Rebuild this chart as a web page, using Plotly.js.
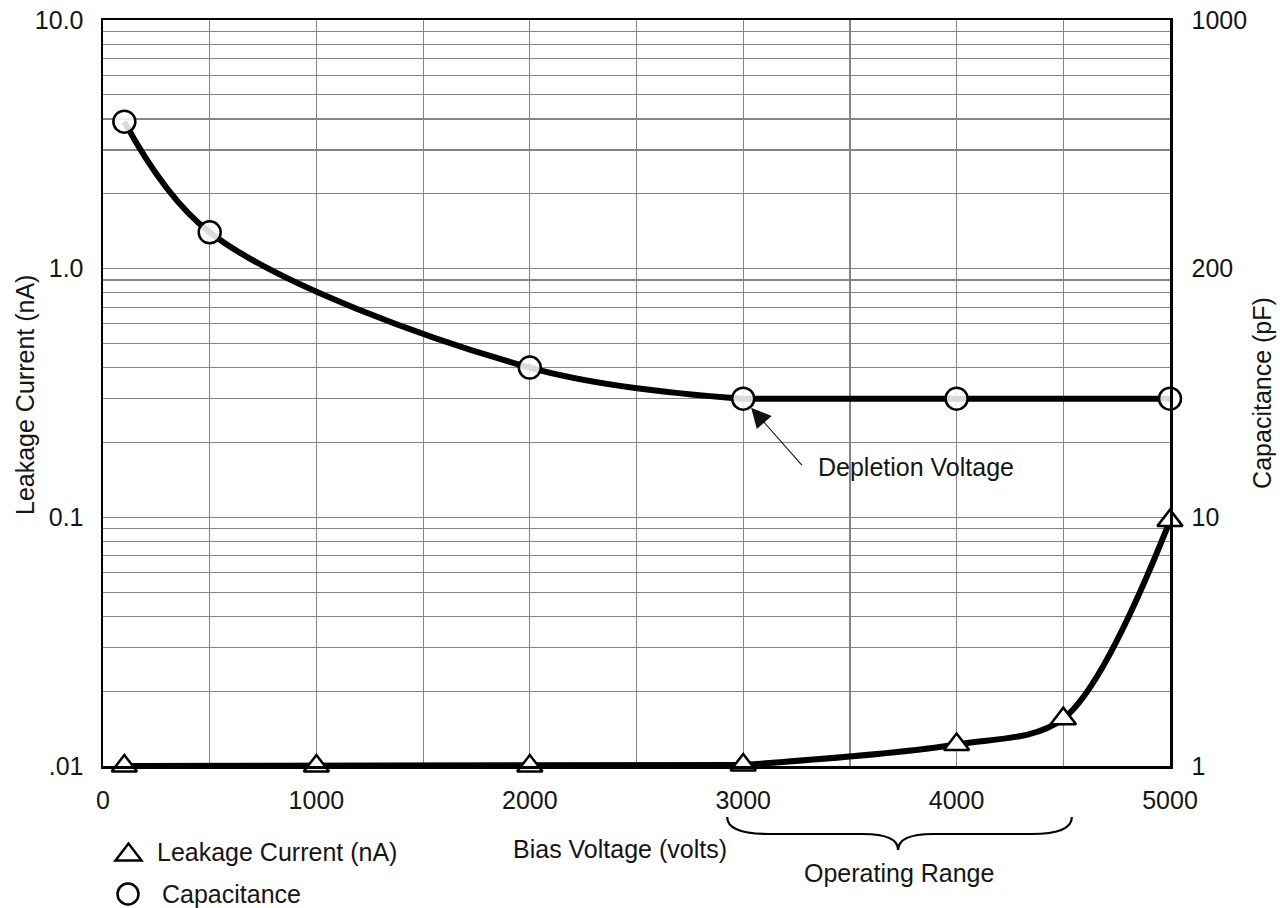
<!DOCTYPE html>
<html>
<head>
<meta charset="utf-8">
<script src="https://cdn.plot.ly/plotly-3.0.1.min.js"></script>
<style>html,body{margin:0;padding:0;background:#fff;}#chart{width:1280px;height:908px;}</style>
</head>
<body>
<div id="chart"></div>
<script>
// ---- data ----
const leakVoltage = [100, 1000, 2000, 3000, 4000, 4500, 5000];
const leakageCurrent = [0.01, 0.01, 0.01, 0.0101, 0.0122, 0.0155, 0.097];
const capVoltage = [100, 500, 2000, 3000, 4000, 5000];
const capacitance = [3.9, 1.4, 0.4, 0.3, 0.3, 0.3]; // plotted on the left-decade positions
const xTickVals = [0, 1000, 2000, 3000, 4000, 5000];
const yTickVals = [0.01, 0.1, 1, 10];
const yTickTextLeft = ['.01', '0.1', '1.0', '10.0'];
const yTickTextRight = ['1', '10', '200', '1000'];
const depletionIndex = 3;

const FONT = '"Liberation Sans", Arial, Helvetica, sans-serif';
const FS = 25;
const TXT = '#151515';
const GRID = '#858585';

const minorVals = [];
[0.01, 0.1, 1].forEach(d => { for (let k = 2; k <= 9; k++) minorVals.push(d * k); });

const LW = 6;
const traces = [
  {x: leakVoltage.slice(0, 4), y: leakageCurrent.slice(0, 4), mode: 'lines', yaxis: 'y',
   line: {color: '#000', width: LW}, showlegend: false, cliponaxis: false, hoverinfo: 'skip'},
  {x: leakVoltage.slice(3), y: leakageCurrent.slice(3), mode: 'lines', yaxis: 'y',
   line: {color: '#000', width: LW, shape: 'spline', smoothing: 0.9}, showlegend: false, cliponaxis: false, hoverinfo: 'skip'},
  {x: capVoltage.slice(0, 4), y: capacitance.slice(0, 4), mode: 'lines', yaxis: 'y2',
   line: {color: '#000', width: LW, shape: 'spline', smoothing: 1}, showlegend: false, cliponaxis: false, hoverinfo: 'skip'},
  {x: capVoltage.slice(3), y: capacitance.slice(3), mode: 'lines', yaxis: 'y2',
   line: {color: '#000', width: LW}, showlegend: false, cliponaxis: false, hoverinfo: 'skip'},
  {x: leakVoltage, y: leakageCurrent, mode: 'markers', yaxis: 'y', name: 'Leakage Current (nA)',
   marker: {symbol: 'triangle-up', size: 22, color: '#fff', line: {color: '#000', width: 2.5}},
   showlegend: false, cliponaxis: false},
  {x: capVoltage, y: capacitance, mode: 'markers', yaxis: 'y2', name: 'Capacitance',
   marker: {symbol: 'circle', size: 22, color: 'rgba(255,255,255,0.85)', line: {color: '#000', width: 2.5}},
   showlegend: false, cliponaxis: false}
];

const pl = 103, pr = 1170, pt = 20, pb = 766;
const px = v => (v - pl) / (pr - pl);
const py = v => (pb - v) / (pb - pt);

const layout = {
  width: 1280, height: 908,
  margin: {l: pl, r: 1280 - pr, t: pt, b: 908 - pb},
  paper_bgcolor: '#fff', plot_bgcolor: '#fff',
  showlegend: false,
  font: {family: FONT, size: FS, color: TXT},
  xaxis: {
    range: [0, 5000], tickmode: 'array', tickvals: xTickVals,
    showgrid: true, gridcolor: GRID, gridwidth: 1.2,
    minor: {tick0: 0, dtick: 500, showgrid: true, gridcolor: GRID, gridwidth: 1.2, ticks: ''},
    showline: true, linecolor: '#000', linewidth: 2.5, mirror: true,
    ticks: '', ticklabelstandoff: 10, zeroline: false,
    tickfont: {family: FONT, size: FS, color: TXT}
  },
  yaxis: {
    type: 'log', range: [-2, 1], tickmode: 'array', tickvals: yTickVals, ticktext: yTickTextLeft,
    showgrid: true, gridcolor: GRID, gridwidth: 1.2,
    minor: {tickmode: 'array', tickvals: minorVals, showgrid: true, gridcolor: GRID, gridwidth: 1.2, ticks: ''},
    showline: true, linecolor: '#000', linewidth: 2.5,
    ticks: '', ticklabelstandoff: 12, zeroline: false,
    tickfont: {family: FONT, size: FS, color: TXT}
  },
  yaxis2: {
    type: 'log', range: [-2, 1], overlaying: 'y', side: 'right',
    tickmode: 'array', tickvals: yTickVals, ticktext: yTickTextRight,
    showgrid: false, showline: true, linecolor: '#000', linewidth: 2.5,
    ticks: '', ticklabelstandoff: 14, zeroline: false,
    tickfont: {family: FONT, size: FS, color: TXT},
    title: {text: 'Capacitance (pF)', standoff: 8, font: {family: FONT, size: FS, color: TXT}}
  },
  annotations: [
    {xref: 'paper', yref: 'paper', x: px(25), y: py(395), text: 'Leakage Current (nA)', textangle: -90,
     showarrow: false, xanchor: 'center', yanchor: 'middle', font: {family: FONT, size: FS, color: TXT}},
    {xref: 'paper', yref: 'paper', x: px(620), y: py(849), text: 'Bias Voltage (volts)', showarrow: false,
     xanchor: 'center', yanchor: 'middle', font: {family: FONT, size: FS, color: TXT}},
    {xref: 'x', yref: 'y2', x: capVoltage[depletionIndex], y: Math.log10(capacitance[depletionIndex]),
     ax: 60, ay: 68, text: '', showarrow: true, arrowhead: 2, arrowsize: 3.6, arrowwidth: 1.1,
     arrowcolor: '#111', standoff: 12},
    {xref: 'paper', yref: 'paper', x: px(916), y: py(467), text: 'Depletion Voltage', showarrow: false,
     xanchor: 'center', yanchor: 'middle', font: {family: FONT, size: FS, color: TXT}},
    {xref: 'paper', yref: 'paper', x: px(899), y: py(873), text: 'Operating Range', showarrow: false,
     xanchor: 'center', yanchor: 'middle', font: {family: FONT, size: FS, color: TXT}},
    {xref: 'paper', yref: 'paper', x: px(155), y: py(852), text: 'Leakage Current (nA)', showarrow: false,
     xanchor: 'left', yanchor: 'middle', font: {family: FONT, size: FS, color: TXT}},
    {xref: 'paper', yref: 'paper', x: px(160), y: py(894), text: 'Capacitance', showarrow: false,
     xanchor: 'left', yanchor: 'middle', font: {family: FONT, size: FS, color: TXT}}
  ],
  shapes: [
    // brace under the operating range
    {type: 'path', xref: 'x', yref: 'paper', layer: 'above',
     path: `M 2925,${py(817)} Q 2925,${py(834)} 3120,${py(834)} L 3560,${py(834)} Q 3726,${py(834)} 3726,${py(850)} Q 3726,${py(834)} 3890,${py(834)} L 4350,${py(834)} Q 4540,${py(834)} 4540,${py(817)}`,
     line: {color: '#000', width: 2.2}},
    // legend symbols
    {type: 'path', xref: 'paper', yref: 'paper', xsizemode: 'pixel', ysizemode: 'pixel',
     xanchor: px(128.5), yanchor: py(852), path: 'M -13,-8.5 L 13,-8.5 L 0,8.5 Z',
     line: {color: '#000', width: 2.5}, fillcolor: '#fff'},
    {type: 'circle', xref: 'paper', yref: 'paper', xsizemode: 'pixel', ysizemode: 'pixel',
     xanchor: px(128), yanchor: py(894), x0: -10.5, x1: 10.5, y0: -10.5, y1: 10.5,
     line: {color: '#000', width: 2.5}, fillcolor: '#fff'}
  ]
};

Plotly.newPlot('chart', traces, layout, {staticPlot: true, displayModeBar: false});
</script>
</body>
</html>
